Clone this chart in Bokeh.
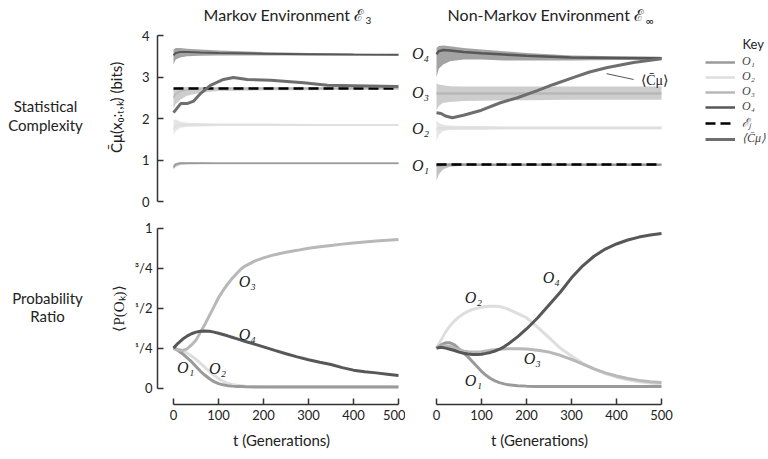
import math
from bokeh.plotting import figure
from bokeh.models import Range1d, FixedTicker, Label, Legend, LegendItem
from bokeh.layouts import column, row
from bokeh.embed import file_html
from bokeh.resources import INLINE

# ---------------- data ----------------
# top panels: bands of trajectories (lower edge, upper edge, centre)
t_band = [0, 5, 15, 30, 60, 100, 150, 200, 300, 400, 500]

mk_o4_lo = [3.30, 3.42, 3.47, 3.50, 3.51, 3.52, 3.52, 3.52, 3.52, 3.52, 3.52]
mk_o4_hi = [3.66, 3.70, 3.70, 3.68, 3.66, 3.64, 3.62, 3.60, 3.58, 3.56, 3.55]
mk_o4_md = [3.52, 3.58, 3.60, 3.60, 3.59, 3.58, 3.57, 3.56, 3.55, 3.54, 3.535]
mk_o3_lo = [2.25, 2.35, 2.45, 2.55, 2.62, 2.66, 2.67, 2.68, 2.68, 2.69, 2.69]
mk_o3_hi = [2.72, 2.75, 2.76, 2.76, 2.76, 2.76, 2.76, 2.76, 2.76, 2.76, 2.76]
mk_o3_md = [2.50, 2.60, 2.66, 2.69, 2.71, 2.72, 2.72, 2.72, 2.72, 2.72, 2.72]
mk_o2_lo = [1.60, 1.70, 1.78, 1.80, 1.81, 1.82, 1.82, 1.82, 1.82, 1.82, 1.82]
mk_o2_hi = [1.95, 1.98, 1.92, 1.90, 1.89, 1.88, 1.88, 1.88, 1.87, 1.87, 1.87]
mk_o2_md = [1.75, 1.82, 1.85, 1.85, 1.85, 1.85, 1.85, 1.85, 1.845, 1.845, 1.845]
mk_o1_lo = [0.78, 0.84, 0.88, 0.89, 0.90, 0.90, 0.90, 0.90, 0.90, 0.90, 0.90]
mk_o1_hi = [0.90, 0.93, 0.95, 0.95, 0.95, 0.94, 0.94, 0.94, 0.94, 0.94, 0.94]
mk_o1_md = [0.82, 0.90, 0.92, 0.92, 0.92, 0.92, 0.92, 0.92, 0.92, 0.92, 0.92]

nm_o4_lo = [3.00, 3.20, 3.30, 3.38, 3.42, 3.42, 3.40, 3.40, 3.40, 3.41, 3.41]
nm_o4_hi = [3.70, 3.75, 3.76, 3.74, 3.70, 3.66, 3.62, 3.58, 3.52, 3.50, 3.49]
nm_o4_md = [3.55, 3.62, 3.65, 3.64, 3.60, 3.57, 3.54, 3.51, 3.47, 3.46, 3.45]
nm_o3_lo = [2.20, 2.30, 2.38, 2.40, 2.42, 2.43, 2.44, 2.44, 2.45, 2.45, 2.45]
nm_o3_hi = [2.85, 2.82, 2.80, 2.78, 2.77, 2.77, 2.77, 2.77, 2.77, 2.77, 2.77]
nm_o3_md = [2.60, 2.60, 2.60, 2.60, 2.60, 2.60, 2.60, 2.60, 2.60, 2.60, 2.60]
nm_o2_lo = [1.45, 1.60, 1.70, 1.72, 1.73, 1.73, 1.74, 1.74, 1.74, 1.74, 1.74]
nm_o2_hi = [1.95, 1.90, 1.85, 1.83, 1.82, 1.82, 1.81, 1.81, 1.81, 1.81, 1.81]
nm_o2_md = [1.75, 1.76, 1.77, 1.77, 1.77, 1.77, 1.77, 1.77, 1.77, 1.77, 1.77]
nm_o1_lo = [0.50, 0.65, 0.78, 0.84, 0.86, 0.86, 0.86, 0.86, 0.86, 0.86, 0.86]
nm_o1_hi = [0.92, 0.93, 0.92, 0.92, 0.92, 0.91, 0.91, 0.91, 0.91, 0.91, 0.91]
nm_o1_md = [0.86, 0.87, 0.88, 0.885, 0.885, 0.885, 0.885, 0.885, 0.885, 0.885, 0.885]

# environment complexity (dashed) and population average complexity
t_eps = [0, 500]
mk_eps = [2.72, 2.72]
nm_eps = [0.89, 0.89]

mk_cmu_t = [0, 8, 16, 30, 45, 60, 82, 111, 133, 164, 216, 289, 342, 400, 500]
mk_cmu = [2.14, 2.25, 2.36, 2.36, 2.42, 2.60, 2.80, 2.94, 2.99, 2.94, 2.92, 2.86, 2.80, 2.79, 2.77]
nm_cmu_t = [0, 10, 20, 35, 60, 100, 142, 180, 224, 260, 305, 340, 380, 438, 500]
nm_cmu = [2.14, 2.12, 2.06, 2.02, 2.08, 2.20, 2.38, 2.50, 2.67, 2.82, 2.99, 3.12, 3.23, 3.35, 3.44]

# bottom panels: probability ratio
t_bot = [0, 10, 20, 30, 40, 50, 60, 70, 80, 90, 100, 110, 120, 130, 140, 150, 160,
         180, 200, 225, 250, 275, 300, 325, 350, 375, 400, 425, 450, 475, 500]
mk_p1 = [0.25, 0.235, 0.215, 0.19, 0.165, 0.135, 0.105, 0.08, 0.058, 0.04, 0.028, 0.02, 0.015,
         0.012, 0.01, 0.009, 0.008, 0.007, 0.007, 0.006, 0.006, 0.006, 0.006, 0.006, 0.006,
         0.006, 0.006, 0.006, 0.006, 0.006, 0.006]
mk_p2 = [0.25, 0.245, 0.235, 0.22, 0.2, 0.18, 0.155, 0.13, 0.105, 0.08, 0.06, 0.043, 0.03,
         0.022, 0.017, 0.014, 0.012, 0.01, 0.009, 0.008, 0.008, 0.008, 0.008, 0.008, 0.008,
         0.008, 0.008, 0.008, 0.008, 0.008, 0.008]
mk_p3 = [0.25, 0.24, 0.235, 0.245, 0.27, 0.30, 0.35, 0.40, 0.455, 0.51, 0.565, 0.61, 0.65,
         0.685, 0.715, 0.745, 0.765, 0.795, 0.815, 0.835, 0.85, 0.862, 0.875, 0.884, 0.893,
         0.901, 0.908, 0.914, 0.92, 0.925, 0.93]
mk_p4 = [0.25, 0.28, 0.305, 0.325, 0.34, 0.35, 0.356, 0.357, 0.355, 0.35, 0.343, 0.335, 0.327,
         0.318, 0.309, 0.30, 0.291, 0.275, 0.258, 0.236, 0.215, 0.195, 0.177, 0.161, 0.147,
         0.128, 0.112, 0.102, 0.095, 0.087, 0.079]
nm_p1 = [0.25, 0.27, 0.283, 0.283, 0.27, 0.245, 0.22, 0.195, 0.165, 0.135, 0.105, 0.08, 0.06,
         0.045, 0.034, 0.026, 0.02, 0.015, 0.012, 0.01, 0.01, 0.01, 0.01, 0.01, 0.01, 0.01,
         0.01, 0.01, 0.01, 0.01, 0.01]
nm_p2 = [0.25, 0.30, 0.35, 0.39, 0.42, 0.445, 0.465, 0.48, 0.492, 0.50, 0.506, 0.51, 0.512,
         0.512, 0.51, 0.503, 0.493, 0.467, 0.44, 0.38, 0.315, 0.25, 0.20, 0.155, 0.12, 0.09,
         0.068, 0.052, 0.04, 0.032, 0.027]
nm_p3 = [0.25, 0.262, 0.265, 0.26, 0.25, 0.24, 0.232, 0.227, 0.225, 0.226, 0.228, 0.232, 0.236,
         0.24, 0.243, 0.245, 0.246, 0.246, 0.244, 0.237, 0.225, 0.205, 0.18, 0.15, 0.12, 0.095,
         0.075, 0.06, 0.048, 0.04, 0.034]
nm_p4 = [0.25, 0.255, 0.25, 0.243, 0.235, 0.225, 0.218, 0.213, 0.21, 0.21, 0.212, 0.217, 0.223,
         0.232, 0.243, 0.258, 0.277, 0.32, 0.37, 0.44, 0.52, 0.60, 0.69, 0.765, 0.825, 0.87,
         0.902, 0.927, 0.945, 0.958, 0.967]

# tick labels
cmu_ticks = [0, 1, 2, 3, 4]
p_ticks = [0, 0.25, 0.5, 0.75, 1]
p_tick_labels = ["0", "¹/4", "¹/2", "³/4", "1"]
t_ticks = [0, 100, 200, 300, 400, 500]

# curve labels (position in data units)
obs_names = ["O₁", "O₂", "O₃", "O₄"]
top_lab_t = -35.6
top_lab_y = [0.87, 1.76, 2.63, 3.57]
mk_lab_t = [27, 98, 164, 164]
mk_lab_y = [0.127, 0.121, 0.667, 0.333]
nm_lab_t = [82, 82, 213, 255]
nm_lab_y = [0.048, 0.564, 0.182, 0.69]
cmu_note_t = [378, 438]
cmu_note_y = [3.08, 2.94]

# ---------------- style ----------------
C1, C2, C3, C4 = "#9a9a9a", "#dedede", "#b8b8b8", "#575757"
C_CMU = "#6e6e6e"
AX = "#333333"
SANS = "Lato"
SERIF = "Liberation Serif"


def make_fig(w, h, xr, yr, bl, br, bt, bb, xloc, yloc):
    p = figure(width=w, height=h, x_range=xr, y_range=yr, output_backend="svg",
               toolbar_location=None, x_axis_location=xloc, y_axis_location=yloc,
               min_border_left=bl, min_border_right=br, min_border_top=bt,
               min_border_bottom=bb, outline_line_color=None,
               background_fill_color="white", border_fill_color="white")
    p.xgrid.visible = False
    p.ygrid.visible = False
    return p


def style_axis(ax, bounds, ticks, font_size="13px"):
    ax.bounds = bounds
    ax.ticker = FixedTicker(ticks=ticks)
    ax.major_tick_in = 6
    ax.major_tick_out = 0
    ax.minor_tick_in = 0
    ax.minor_tick_out = 0
    ax.axis_line_color = AX
    ax.axis_line_width = 1.5
    ax.major_tick_line_color = AX
    ax.major_tick_line_width = 1.5
    ax.major_label_text_font = SANS
    ax.major_label_text_font_size = font_size
    ax.major_label_text_color = "#222222"
    ax.axis_label_text_font = SANS
    ax.axis_label_text_font_size = "15px"
    ax.axis_label_text_font_style = "normal"
    ax.axis_label_text_color = "#222222"


def band(p, t, lo, hi, md, color, alpha, lw):
    p.varea(x=t, y1=lo, y2=hi, fill_color=color, fill_alpha=alpha)
    return p.line(t, md, line_color=color, line_width=lw)


def txt(p, x, y, s, size="15px", font=SANS, style="normal", align="center",
        color="#222222", angle=0.0):
    p.add_layout(Label(x=x, y=y, text=s, text_font=font, text_font_size=size,
                       text_font_style=style, text_align=align, text_baseline="middle",
                       text_color=color, angle=angle))


# ---------------- left strip: row titles and y-axis titles ----------------
lf = make_fig(128, 451, Range1d(0, 128), Range1d(0, 451), 0, 0, 0, 0, None, None)
txt(lf, 45, 346, "Statistical")
txt(lf, 45, 327, "Complexity")
txt(lf, 47, 154, "Probability")
txt(lf, 47, 136, "Ratio")
txt(lf, 115, 344, "C̄μ(x₀:ₜ,ₖ) (bits)", angle=math.pi / 2)
txt(lf, 118, 143, "⟨P(Oₖ)⟩", font=SERIF, angle=math.pi / 2)

x_left = Range1d(-35.56, 515.56)

# ---------------- top-left: Markov complexity ----------------
tl = make_fig(277, 214, x_left, Range1d(0, 4.8434), 29, 0, 0, 13, None, "left")
style_axis(tl.yaxis[0], (0, 4), cmu_ticks)
tl.yaxis[0].major_label_standoff = 8
band(tl, t_band, mk_o1_lo, mk_o1_hi, mk_o1_md, C1, 0.6, 1.5)
band(tl, t_band, mk_o2_lo, mk_o2_hi, mk_o2_md, C2, 0.8, 1.5)
band(tl, t_band, mk_o3_lo, mk_o3_hi, mk_o3_md, C3, 0.7, 1.5)
band(tl, t_band, mk_o4_lo, mk_o4_hi, mk_o4_md, C4, 0.55, 2)
tl.line(t_eps, mk_eps, line_color="black", line_width=2.5, line_dash="10 5")
tl.line(mk_cmu_t, mk_cmu, line_color=C_CMU, line_width=3)
txt(tl, 424.4, 4.506, "Markov Environment ℰ", size="16px", align="right")
txt(tl, 426.5, 4.36, "3", size="10px", align="left")

# ---------------- top-right: Non-Markov complexity ----------------
tr = make_fig(363, 214, Range1d(-62.22, 737.8), Range1d(0, 4.8434), 3, 0, 0, 13, None, None)
r1 = band(tr, t_band, nm_o1_lo, nm_o1_hi, nm_o1_md, C1, 0.6, 2.5)
r2 = band(tr, t_band, nm_o2_lo, nm_o2_hi, nm_o2_md, C2, 0.8, 2.5)
r3 = band(tr, t_band, nm_o3_lo, nm_o3_hi, nm_o3_md, C3, 0.7, 2.5)
r4 = band(tr, t_band, nm_o4_lo, nm_o4_hi, nm_o4_md, C4, 0.55, 2.5)
re = tr.line(t_eps, nm_eps, line_color="black", line_width=2.5, line_dash="10 5")
rc = tr.line(nm_cmu_t, nm_cmu, line_color=C_CMU, line_width=3)
tr.line(cmu_note_t, cmu_note_y, line_color="#555555", line_width=1)
txt(tr, 455, 2.92, "⟨C̄μ⟩", size="14px", font=SERIF, align="left")
for name, yy in zip(obs_names, top_lab_y):
    txt(tr, top_lab_t, yy, name, size="16px", font=SERIF, style="italic")
txt(tr, 462, 4.506, "Non-Markov Environment ℰ", size="16px", align="right")
txt(tr, 464.5, 4.36, "∞", size="11px", align="left")
txt(tr, 680, 3.807, "Key", size="13px", align="left")

legend = Legend(items=[LegendItem(label="O₁", renderers=[r1]),
                       LegendItem(label="O₂", renderers=[r2]),
                       LegendItem(label="O₃", renderers=[r3]),
                       LegendItem(label="O₄", renderers=[r4]),
                       LegendItem(label="ℰⱼ", renderers=[re]),
                       LegendItem(label="⟨C̄μ⟩", renderers=[rc])],
                location=(297, 55),
                label_text_font=SERIF, label_text_font_style="italic",
                label_text_font_size="12px", label_text_line_height=1.0,
                glyph_width=30, glyph_height=12,
                label_height=12, label_standoff=7, spacing=0, padding=0, margin=0,
                border_line_alpha=0, background_fill_alpha=0)
tr.add_layout(legend)

# ---------------- bottom-left: Markov probability ----------------
y_bot = Range1d(-0.10303, 1.03636)
bl = make_fig(277, 237, x_left, y_bot, 29, 0, 8, 41, "below", "left")
style_axis(bl.yaxis[0], (0, 1), p_ticks)
bl.yaxis[0].major_label_overrides = {tk: lb for tk, lb in zip(p_ticks, p_tick_labels)}
bl.yaxis[0].major_label_standoff = 5
style_axis(bl.xaxis[0], (0, 500), t_ticks)
bl.xaxis[0].axis_label = "t (Generations)"
bl.xaxis[0].axis_label_standoff = 8
for ys, c in zip([mk_p2, mk_p1, mk_p3, mk_p4], [C2, C1, C3, C4]):
    bl.line(t_bot, ys, line_color=c, line_width=3)
for name, xx, yy in zip(obs_names, mk_lab_t, mk_lab_y):
    txt(bl, xx, yy, name, size="16px", font=SERIF, style="italic")

# ---------------- bottom-right: Non-Markov probability ----------------
br = make_fig(275, 237, Range1d(-62.22, 520), y_bot, 3, 10, 8, 41, "below", None)
style_axis(br.xaxis[0], (0, 500), t_ticks)
br.xaxis[0].axis_label = "t (Generations)"
br.xaxis[0].axis_label_standoff = 8
for ys, c in zip([nm_p2, nm_p1, nm_p3, nm_p4], [C2, C1, C3, C4]):
    br.line(t_bot, ys, line_color=c, line_width=3)
for name, xx, yy in zip(obs_names, nm_lab_t, nm_lab_y):
    txt(br, xx, yy, name, size="16px", font=SERIF, style="italic")

layout = row(lf, column(row(tl, tr), row(bl, br)))
open("out.html", "w").write(file_html(layout, INLINE))
